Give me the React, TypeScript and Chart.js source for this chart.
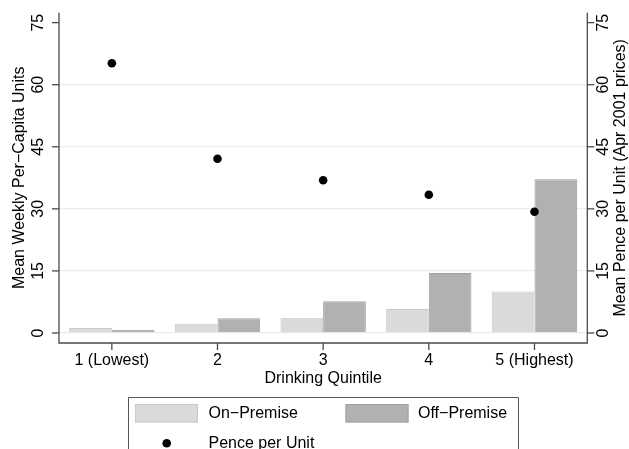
import React, { useEffect, useRef } from "react";
import { Chart, registerables } from "chart.js";

Chart.register(...registerables);

const categories = ["1 (Lowest)", "2", "3", "4", "5 (Highest)"];
const onPremise = [1.2, 2.25, 3.7, 5.8, 10.0];
const offPremise = [0.8, 3.55, 7.66, 14.5, 37.15];
const pencePerUnit = [65.2, 42.1, 36.9, 33.4, 29.3];
const yTicks = [0, 15, 30, 45, 60, 75];
const yTickLabels = ["0", "15", "30", "45", "60", "75"];

const leftTitle = "Mean Weekly Per\u2212Capita Units";
const rightTitle = "Mean Pence per Unit (Apr 2001 prices)";
const xTitle = "Drinking Quintile";
const seriesLabels = ["On\u2212Premise", "Off\u2212Premise", "Pence per Unit"];

const FONT = '16px "Liberation Sans", Arial, Helvetica, sans-serif';
const AXIS = "#4a4a4a";

const decorPlugin = {
  id: "stataDecor",
  afterDraw(chart: any) {
    const ctx = chart.ctx as CanvasRenderingContext2D;
    const area = chart.chartArea;
    const x = chart.scales.x;
    const y = chart.scales.y;
    const y2 = chart.scales.y2;
    ctx.save();
    ctx.strokeStyle = AXIS;
    ctx.lineWidth = 1.3;
    // axis lines
    ctx.beginPath();
    ctx.moveTo(area.left, area.top);
    ctx.lineTo(area.left, area.bottom);
    ctx.lineTo(area.right, area.bottom);
    ctx.lineTo(area.right, area.top);
    ctx.stroke();
    ctx.fillStyle = "#000";
    ctx.font = FONT;
    // left ticks
    yTicks.forEach((v, i) => {
      const py = y.getPixelForValue(v);
      ctx.beginPath();
      ctx.moveTo(area.left - 7, py);
      ctx.lineTo(area.left, py);
      ctx.stroke();
      ctx.save();
      ctx.translate(area.left - 20.5, py);
      ctx.rotate(-Math.PI / 2);
      ctx.textAlign = "center";
      ctx.textBaseline = "middle";
      ctx.fillText(yTickLabels[i], 0, 0);
      ctx.restore();
    });
    // right ticks
    yTicks.forEach((v, i) => {
      const py = y2.getPixelForValue(v);
      ctx.beginPath();
      ctx.moveTo(area.right, py);
      ctx.lineTo(area.right + 7, py);
      ctx.stroke();
      ctx.save();
      ctx.translate(area.right + 16.5, py);
      ctx.rotate(-Math.PI / 2);
      ctx.textAlign = "center";
      ctx.textBaseline = "middle";
      ctx.fillText(yTickLabels[i], 0, 0);
      ctx.restore();
    });
    const midY = (area.top + area.bottom) / 2;
    // left title
    ctx.save();
    ctx.translate(19.5, midY);
    ctx.rotate(-Math.PI / 2);
    ctx.textAlign = "center";
    ctx.textBaseline = "middle";
    ctx.fillText(leftTitle, 0, 0);
    ctx.restore();
    // right title
    ctx.save();
    ctx.translate(area.right + 33, midY);
    ctx.rotate(-Math.PI / 2);
    ctx.textAlign = "center";
    ctx.textBaseline = "middle";
    ctx.fillText(rightTitle, 0, 0);
    ctx.restore();
    // x ticks
    categories.forEach((c, i) => {
      const px = x.getPixelForTick(i);
      ctx.beginPath();
      ctx.moveTo(px, area.bottom);
      ctx.lineTo(px, area.bottom + 7);
      ctx.stroke();
      ctx.textAlign = "center";
      ctx.textBaseline = "middle";
      ctx.fillText(c, px, area.bottom + 17.5);
    });
    ctx.textAlign = "center";
    ctx.textBaseline = "middle";
    ctx.fillText(xTitle, (area.left + area.right) / 2, area.bottom + 35.5);

    // legend
    const ds = chart.data.datasets;
    ctx.lineWidth = 1;
    ctx.strokeStyle = "#555";
    ctx.fillStyle = "#fff";
    ctx.beginPath();
    ctx.rect(128.5, 397.5, 390, 70);
    ctx.fill();
    ctx.stroke();
    const sw = (x0: number, d: any) => {
      ctx.fillStyle = d.backgroundColor;
      ctx.strokeStyle = d.borderColor;
      ctx.fillRect(x0, 404.5, 63, 18);
      ctx.strokeRect(x0 + 0.5, 404.5, 62, 17.5);
    };
    sw(135, ds[1]);
    sw(345.5, ds[2]);
    ctx.fillStyle = "#000";
    ctx.textAlign = "left";
    ctx.textBaseline = "middle";
    ctx.fillText(ds[1].label, 208.5, 413.8);
    ctx.fillText(ds[2].label, 418, 413.8);
    ctx.beginPath();
    ctx.arc(166.7, 443.3, 4.3, 0, Math.PI * 2);
    ctx.fillStyle = ds[0].backgroundColor;
    ctx.fill();
    ctx.fillStyle = "#000";
    ctx.fillText(ds[0].label, 208.5, 443.5);
    ctx.restore();
  },
};

export default function App() {
  const ref = useRef<HTMLCanvasElement>(null);
  useEffect(() => {
    const prevMargin = document.body.style.margin;
    document.body.style.margin = "0";
    const chart = new Chart(ref.current!, {
      type: "bar",
      data: {
        labels: categories,
        datasets: [
          {
            type: "line",
            label: seriesLabels[2],
            data: pencePerUnit,
            yAxisID: "y2",
            showLine: false,
            pointRadius: 4.3,
            pointBackgroundColor: "#000",
            pointBorderColor: "#000",
            pointBorderWidth: 0,
            backgroundColor: "#000",
            borderColor: "#000",
            order: 0,
          } as any,
          {
            type: "bar",
            label: seriesLabels[0],
            data: onPremise,
            yAxisID: "y",
            backgroundColor: "#d9dbda",
            borderColor: "#c8cac9",
            borderWidth: 1,
            categoryPercentage: 0.808,
            barPercentage: 1.0,
            order: 1,
          },
          {
            type: "bar",
            label: seriesLabels[1],
            data: offPremise,
            yAxisID: "y",
            backgroundColor: "#b0b1b2",
            borderColor: "#9fa0a1",
            borderWidth: 1,
            categoryPercentage: 0.808,
            barPercentage: 1.0,
            order: 1,
          },
        ],
      },
      options: {
        responsive: false,
        animation: false,
        layout: { padding: { left: 59, right: 41.7, top: 12.7, bottom: 106 } },
        plugins: { legend: { display: false }, tooltip: { enabled: false } },
        scales: {
          x: {
            type: "category",
            offset: true,
            display: true,
            grid: { display: false, drawTicks: false },
            border: { display: false },
            ticks: { display: false },
          },
          y: {
            position: "left",
            min: -2.42,
            max: 77.4,
            display: true,
            afterBuildTicks: (s: any) => {
              s.ticks = yTicks.map((v) => ({ value: v }));
            },
            grid: {
              drawTicks: false,
              color: (c: any) => (c.tick && c.tick.value === 75 ? "rgba(0,0,0,0)" : "#ebebeb"),
              lineWidth: 1.3,
            },
            border: { display: false },
            ticks: { display: false },
          },
          y2: {
            position: "right",
            min: -2.42,
            max: 77.4,
            display: true,
            grid: { display: false, drawTicks: false },
            border: { display: false },
            ticks: { display: false },
          },
        },
      },
      plugins: [decorPlugin],
    });
    return () => {
      chart.destroy();
      document.body.style.margin = prevMargin;
    };
  }, []);
  return (
    <div style={{ position: "absolute", left: 0, top: 0, width: 629, height: 449, background: "#fff" }}>
      <canvas ref={ref} width={629} height={449} style={{ display: "block" }} />
    </div>
  );
}
